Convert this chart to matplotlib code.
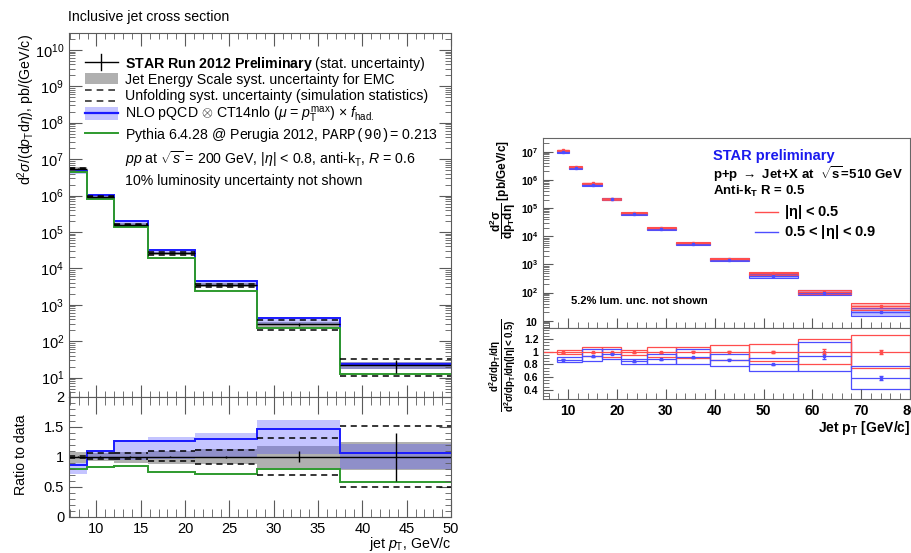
import numpy as np
import matplotlib
matplotlib.use("Agg")
import matplotlib.pyplot as plt
from matplotlib.lines import Line2D
from matplotlib.patches import Rectangle
from matplotlib.ticker import LogLocator, MultipleLocator, NullFormatter, FuncFormatter, FixedLocator

plt.rcParams['font.family'] = ['Liberation Sans', 'DejaVu Sans']
plt.rcParams['mathtext.fontset'] = 'custom'
plt.rcParams['mathtext.rm'] = 'Liberation Sans'
plt.rcParams['mathtext.it'] = 'Liberation Sans:italic'
plt.rcParams['mathtext.bf'] = 'Liberation Sans:bold'
plt.rcParams['mathtext.tt'] = 'Liberation Mono'

# ---- left: STAR 200 GeV inclusive jets ----
edges = [6.9, 8.9, 12.0, 15.8, 21.1, 28.1, 37.5, 50.0]
data_x = [7.9, 10.4, 13.8, 18.3, 24.6, 32.8, 43.8]
data = [5.5e6, 9.3e5, 1.6e5, 2.6e4, 3.4e3, 2.9e2, 22]
data_err = [3e4, 9e3, 1.6e3, 2.6e2, 70, 28, 8.8]
jes_lo = [4.95e6, 8.6e5, 1.45e5, 2.3e4, 3.0e3, 2.4e2, 17]
jes_hi = [6.0e6, 1.0e6, 1.75e5, 2.85e4, 3.85e3, 3.4e2, 27.5]
unf_lo = [5.4e6, 9.0e5, 1.53e5, 2.4e4, 3.0e3, 2.0e2, 11]
unf_hi = [5.6e6, 9.8e5, 1.7e5, 2.85e4, 3.8e3, 3.8e2, 33]
nlo = [4.7e6, 1.03e6, 2.0e5, 3.25e4, 4.4e3, 4.25e2, 23.5]
nlo_lo = [4.0e6, 9.3e5, 1.55e5, 2.55e4, 3.35e3, 3.0e2, 17.5]
nlo_hi = [5.0e6, 1.05e6, 2.05e5, 3.45e4, 4.7e3, 4.7e2, 27]
pythia = [4.4e6, 7.8e5, 1.35e5, 1.95e4, 2.45e3, 2.3e2, 12.7]

# ratio to data
r_stat = [0.005, 0.01, 0.01, 0.01, 0.02, 0.095, 0.4]
r_jes_lo = [0.90, 0.93, 0.90, 0.88, 0.88, 0.82, 0.78]
r_jes_hi = [1.08, 1.07, 1.08, 1.10, 1.13, 1.18, 1.24]
r_unf_lo = [0.985, 0.955, 0.955, 0.93, 0.88, 0.69, 0.50]
r_unf_hi = [1.015, 1.055, 1.055, 1.09, 1.12, 1.32, 1.51]
r_nlo = [0.856, 1.10, 1.255, 1.26, 1.29, 1.47, 1.065]
r_nlo_lo = [0.72, 0.97, 0.95, 0.97, 0.98, 1.05, 0.80]
r_nlo_hi = [0.90, 1.12, 1.28, 1.33, 1.39, 1.62, 1.22]
r_pythia = [0.79, 0.83, 0.84, 0.75, 0.72, 0.79, 0.58]

# ---- right: STAR 510 GeV, two eta ranges ----
rb = [7.8, 10.1, 12.9, 17.0, 20.9, 26.1, 32.1, 39.0, 47.0, 57.1, 68.0, 80.0]
rx = [8.9, 11.5, 15.0, 19.0, 23.4, 29.0, 35.5, 43.0, 52.0, 62.4, 74.0]
xs_red = [1.12e7, 2.9e6, 7.5e5, 2.1e5, 6.6e4, 1.95e4, 5.8e3, 1.6e3, 4.8e2, 1.05e2, 33]
xs_blue = [1.0e7, 2.7e6, 6.8e5, 2.1e5, 6.0e4, 1.8e4, 5.3e3, 1.46e3, 4.0e2, 1.0e2, 21]
sys_red = [0.06, 0.06, 0.07, 0.07, 0.08, 0.08, 0.09, 0.10, 0.12, 0.15, 0.25]
sys_blue = [0.07, 0.07, 0.08, 0.08, 0.09, 0.10, 0.11, 0.12, 0.15, 0.20, 0.30]

rrb = [7.8, 12.9, 17.0, 20.9, 26.1, 32.1, 39.0, 47.0, 57.1, 68.0, 80.0]
rrx = [9.0, 15.0, 19.0, 23.4, 29.0, 35.5, 43.0, 52.0, 62.4, 74.0]
rr_red = [0.99, 0.99, 0.99, 0.99, 0.99, 1.0, 1.0, 1.0, 1.0, 1.0]
rr_red_err = [0.005, 0.005, 0.005, 0.005, 0.005, 0.008, 0.01, 0.012, 0.04, 0.03]
rr_red_lo = [0.965, 0.93, 0.92, 0.95, 0.91, 0.90, 0.87, 0.86, 0.80, 0.74]
rr_red_hi = [1.025, 1.07, 1.08, 1.03, 1.08, 1.075, 1.10, 1.12, 1.195, 1.26]
rr_blue = [0.874, 0.93, 0.965, 0.85, 0.88, 0.915, 0.874, 0.80, 0.94, 0.59]
rr_blue_err = [0.005, 0.005, 0.006, 0.006, 0.006, 0.008, 0.01, 0.012, 0.05, 0.03]
rr_blue_lo = [0.84, 0.86, 0.88, 0.81, 0.81, 0.81, 0.77, 0.70, 0.70, 0.41]
rr_blue_hi = [0.91, 1.04, 1.05, 0.89, 0.97, 1.05, 0.97, 0.905, 1.16, 0.775]

W, H = 912, 553
fig = plt.figure(figsize=(W / 100, H / 100), dpi=100)


def rect(x0, y0, x1, y1):
    # pixel box (top-left origin) -> figure fraction
    return [x0 / W, 1 - y1 / H, (x1 - x0) / W, (y1 - y0) / H]


def ftext(x, y, s, **kw):
    fig.text(x / W, 1 - y / H, s, **kw)


def fline(xs, ys, **kw):
    fig.add_artist(Line2D([x / W for x in xs], [1 - y / H for y in ys], **kw))


def fbox(x0, y0, x1, y1, **kw):
    fig.add_artist(Rectangle((x0 / W, 1 - y1 / H), (x1 - x0) / W, (y1 - y0) / H,
                             transform=fig.transFigure, **kw))


GRAY = '#b0b0b0'
BLUE = '#1a1aff'
LBLUE = (0.3, 0.3, 1.0, 0.33)
GREEN = '#2e9a2e'
FRAME = '#5a5a5a'
DASH = (0, (4, 3))

axL1 = fig.add_axes(rect(69, 33, 451, 396.7))
axL2 = fig.add_axes(rect(69, 396.7, 451, 516.7))

lo_e = edges[:-1]
hi_e = edges[1:]

# main panel
axL1.stairs(jes_hi, edges, baseline=jes_lo, fill=True, color=GRAY, lw=0)
axL1.stairs(nlo_hi, edges, baseline=nlo_lo, fill=True, color=LBLUE, lw=0)
axL1.hlines(unf_hi, lo_e, hi_e, colors='k', linestyles=DASH, lw=1.1)
axL1.hlines(unf_lo, lo_e, hi_e, colors='k', linestyles=DASH, lw=1.1)
axL1.stairs(nlo, edges, baseline=None, color=BLUE, lw=1.4)
axL1.stairs(pythia, edges, baseline=None, color=GREEN, lw=1.4)
axL1.hlines(data, lo_e, hi_e, colors='k', lw=1)
axL1.errorbar(data_x, data, yerr=data_err, fmt='none', ecolor='k', elinewidth=1)
axL1.set_yscale('log')
axL1.set_ylim(3.0, 2.9e10)
axL1.set_xlim(6.9, 50)
axL1.yaxis.set_major_locator(FixedLocator([10.0 ** k for k in range(1, 11)]))
axL1.yaxis.set_minor_locator(LogLocator(base=10, subs=np.arange(2, 10), numticks=20))
axL1.yaxis.set_minor_formatter(NullFormatter())
axL1.xaxis.set_major_locator(MultipleLocator(5))
axL1.xaxis.set_minor_locator(MultipleLocator(1))
axL1.tick_params(axis='x', labelbottom=False)

# ratio panel
axL2.stairs(r_jes_hi, edges, baseline=r_jes_lo, fill=True, color=GRAY, lw=0)
axL2.stairs(r_nlo_hi, edges, baseline=r_nlo_lo, fill=True, color=LBLUE, lw=0)
axL2.hlines(r_unf_hi, lo_e, hi_e, colors='k', linestyles=DASH, lw=1.1)
axL2.hlines(r_unf_lo, lo_e, hi_e, colors='k', linestyles=DASH, lw=1.1)
axL2.stairs(r_nlo, edges, baseline=None, color=BLUE, lw=1.4)
axL2.stairs(r_pythia, edges, baseline=None, color=GREEN, lw=1.4)
axL2.axhline(1.0, color='k', lw=1)
axL2.errorbar(data_x, [1.0] * len(data_x), yerr=r_stat, fmt='none', ecolor='k', elinewidth=1)
axL2.set_xlim(6.9, 50)
axL2.set_ylim(0, 2.0)
axL2.xaxis.set_major_locator(MultipleLocator(5))
axL2.xaxis.set_minor_locator(MultipleLocator(1))
axL2.yaxis.set_major_locator(MultipleLocator(0.5))
axL2.yaxis.set_minor_locator(MultipleLocator(0.1))
axL2.yaxis.set_major_formatter(FuncFormatter(lambda v, p: '%g' % v))

for ax in (axL1, axL2):
    ax.tick_params(which='both', direction='in', top=True, right=True, colors=FRAME,
                   labelcolor='k', labelsize=10.5)
    ax.tick_params(which='major', length=9)
    ax.tick_params(which='minor', length=4.5)
    for s in ax.spines.values():
        s.set_color(FRAME)

axL2.tick_params(axis='x', which='major', length=12)
axL2.tick_params(axis='x', which='minor', length=6)

# legend of the left plot, drawn by hand
fline([85, 118], [61.7, 61.7], color='k', lw=1)
fline([101.5, 101.5], [54, 69.5], color='k', lw=1)
fbox(85, 73, 118, 84, facecolor=GRAY, edgecolor='none')
fline([85, 118], [89.5, 89.5], color='#333333', lw=1.2, ls=DASH)
fline([85, 118], [100.5, 100.5], color='#333333', lw=1.2, ls=DASH)
fbox(85, 106.5, 118, 120, facecolor=LBLUE, edgecolor='none')
fline([85, 118], [113.3, 113.3], color=BLUE, lw=1.6)
fline([85, 118], [132.7, 132.7], color=GREEN, lw=1.4)

LFS = 10.2
leg_rows = [(61.7, r"$\mathbf{STAR\ Run\ 2012\ Preliminary}$ (stat. uncertainty)"),
            (78.3, "Jet Energy Scale syst. uncertainty for EMC"),
            (95.0, "Unfolding syst. uncertainty (simulation statistics)"),
            (112.0, r"NLO pQCD $\otimes$ CT14nlo ($\mu$ = $p_\mathrm{T}^\mathrm{max}$) $\times$ $f_\mathrm{had.}$"),
            (132.7, r"Pythia 6.4.28 @ Perugia 2012, $\mathtt{PARP(90)}$= 0.213"),
            (156.7, r"$pp$ at $\sqrt{s}$ = 200 GeV, $|\eta|$ < 0.8, anti-k$_\mathrm{T}$, $R$ = 0.6"),
            (179.0, "10% luminosity uncertainty not shown")]
for yy, s in leg_rows:
    ftext(125, yy, s, fontsize=LFS, va='center_baseline')

ftext(68, 17, "Inclusive jet cross section", fontsize=LFS, va='center')
ftext(26, 34, r"d$^2\sigma$/(d$p_\mathrm{T}$d$\eta$), pb/(GeV/c)", fontsize=LFS,
      rotation=90, ha='center', va='top')
ftext(21, 455, "Ratio to data", fontsize=LFS, rotation=90, ha='center', va='center')
ftext(451, 544, r"jet $p_\mathrm{T}$, GeV/c", fontsize=LFS, ha='right', va='center')

# ---- right panels ----
RED = (1.0, 0.3, 0.3)
RBLUE = (0.3, 0.3, 1.0)
axR1 = fig.add_axes(rect(543.3, 138.3, 910, 328.3))
axR2 = fig.add_axes(rect(543.3, 328.3, 910, 399.3))

for i in range(len(rx)):
    x0, x1 = rb[i], rb[i + 1]
    for val, s, c in ((xs_blue[i], sys_blue[i], RBLUE), (xs_red[i], sys_red[i], RED)):
        lo, hi = val * (1 - s), val * (1 + s)
        axR1.add_patch(Rectangle((x0, lo), x1 - x0, hi - lo, facecolor=c, alpha=0.35,
                                 edgecolor='none'))
        axR1.add_patch(Rectangle((x0, lo), x1 - x0, hi - lo, fill=False, edgecolor=c, lw=0.8))
        axR1.hlines(val, x0, x1, colors=[c], lw=1)
axR1.errorbar(rx, xs_red, fmt='s', ms=1.8, color=RED, mec=RED)
axR1.errorbar(rx, xs_blue, fmt='s', ms=1.8, color=RBLUE, mec=RBLUE)
axR1.set_yscale('log')
axR1.set_ylim(5.4, 3.0e7)
axR1.set_xlim(4.9, 80)

for i in range(len(rrx)):
    x0, x1 = rrb[i], rrb[i + 1]
    axR2.add_patch(Rectangle((x0, rr_red_lo[i]), x1 - x0, rr_red_hi[i] - rr_red_lo[i],
                             fill=False, edgecolor=RED, lw=0.9))
    axR2.add_patch(Rectangle((x0, rr_blue_lo[i]), x1 - x0, rr_blue_hi[i] - rr_blue_lo[i],
                             fill=False, edgecolor=RBLUE, lw=0.9))
    axR2.hlines(rr_blue[i], x0, x1, colors=[RBLUE], lw=0.9)
axR2.axhline(1.0, color=RED, lw=0.9)
axR2.errorbar(rrx, rr_red, yerr=rr_red_err, fmt='s', ms=1.8, color=RED, mec=RED, elinewidth=0.8,
              capsize=1.2)
axR2.errorbar(rrx, rr_blue, yerr=rr_blue_err, fmt='s', ms=1.8, color=RBLUE, mec=RBLUE,
              elinewidth=0.8, capsize=1.2)
axR2.set_xlim(4.9, 80)
axR2.set_ylim(0.25, 1.37)

axR1.yaxis.set_major_locator(FixedLocator([10, 1e2, 1e3, 1e4, 1e5, 1e6, 1e7]))
axR1.yaxis.set_minor_locator(LogLocator(base=10, subs=np.arange(2, 10), numticks=20))
axR1.yaxis.set_minor_formatter(NullFormatter())
axR1.yaxis.set_major_formatter(FuncFormatter(
    lambda v, p: r'$\mathbf{10}$' if v < 11 else r'$\mathbf{10^{%d}}$' % round(np.log10(v))))
axR2.yaxis.set_major_locator(FixedLocator([0.4, 0.6, 0.8, 1.0, 1.2]))
axR2.yaxis.set_minor_locator(MultipleLocator(0.05))
axR2.yaxis.set_major_formatter(FuncFormatter(lambda v, p: '%g' % v))
for ax in (axR1, axR2):
    ax.xaxis.set_major_locator(MultipleLocator(10))
    ax.xaxis.set_minor_locator(MultipleLocator(2))
    ax.tick_params(which='both', direction='in', top=False, right=False, colors=FRAME,
                   labelcolor='k')
    ax.tick_params(which='major', length=7)
    ax.tick_params(which='minor', length=4)
    for s in ax.spines.values():
        s.set_color('#666666')
    for lab in ax.get_yticklabels() + ax.get_xticklabels():
        lab.set_fontweight('bold')
axR1.tick_params(axis='x', labelbottom=False)
axR1.tick_params(axis='y', labelsize=7.5)
axR2.tick_params(axis='y', labelsize=7.5)
axR2.tick_params(axis='x', labelsize=10)

ftext(713, 156, "STAR preliminary", color='#1a1aee', fontsize=10.5, fontweight='bold', va='center')
ftext(713, 174, r"p+p $\rightarrow$ Jet+X at  $\sqrt{\mathbf{s}}$=510 GeV", fontsize=9.5,
      fontweight='bold', va='center')
ftext(713, 191, r"Anti-k$_\mathbf{T}$ R = 0.5", fontsize=9.5, fontweight='bold', va='center')
fline([755, 778], [212, 212], color=RED, lw=1)
fline([755, 778], [232, 232], color=RBLUE, lw=1)
ftext(784, 212, r"|$\mathbf{\eta}$| < 0.5", fontsize=10.5, fontweight='bold', va='center')
ftext(784, 232, r"0.5 < |$\mathbf{\eta}$| < 0.9", fontsize=10.5, fontweight='bold', va='center')
ftext(571, 301, "5.2% lum. unc. not shown", fontsize=8, fontweight='bold', va='center')
ftext(910, 428, r"Jet p$_\mathbf{T}$ [GeV/c]", fontsize=10, fontweight='bold', ha='right', va='center')
ftext(503, 140, r"$\mathbf{\dfrac{d^{2}\sigma}{dp_{T}d\eta}}$ [pb/GeV/c]", fontsize=8.5,
      fontweight='bold', rotation=90, ha='center', va='top')
ftext(503, 365, r"$\mathbf{\dfrac{d^{2}\sigma/dp_{T}/d\eta}{d^{2}\sigma/dp_{T}/d\eta(|\eta|<0.5)}}$",
      fontsize=7, rotation=90, ha='center', va='center')

fig.savefig("out.png", dpi=100)
